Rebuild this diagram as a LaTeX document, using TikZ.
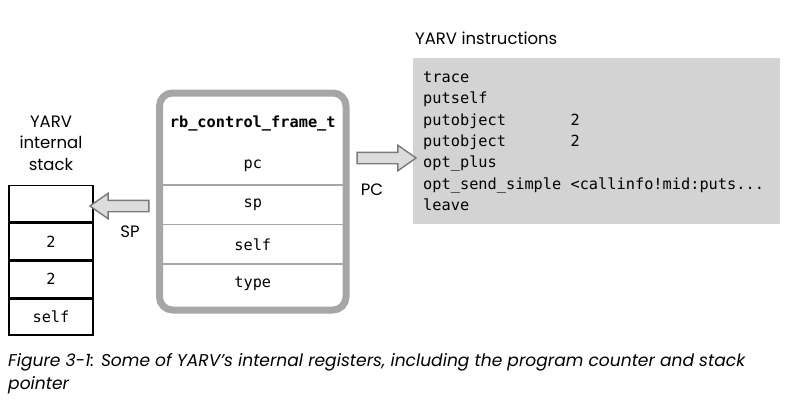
\documentclass[tikz,border=0pt]{standalone}
\usepackage{fontspec}
\setsansfont{Poppins}
\setmonofont{DejaVu Sans Mono}
\usepackage{tikz}
\usetikzlibrary{
  arrows.meta,
  positioning,
  shapes.arrows
}
\definecolor{CodeGray}{HTML}{D3D3D4}
\definecolor{FrameGray}{HTML}{A6A6A6}
\definecolor{ArrowFill}{HTML}{DCDCDC}
\definecolor{ArrowLine}{HTML}{7A7A7A}
\newcommand\instr[2]{\makebox[16\fontcharwd\font`0][l]{#1}#2}

\begin{document}
\begin{tikzpicture}[
  x=1pt, y=-1pt,
  lbl/.style={font=\sffamily\fontsize{16.5}{21.5}\selectfont,inner sep=0pt},
  mono/.style={font=\ttfamily\fontsize{15.3}{21.4}\selectfont},
  codebox/.style={
    mono,
    fill=CodeGray,
    anchor=north west,
    text width=347pt,
    inner xsep=10pt,
    minimum height=166pt,
    align=left
  },
  framebox/.style={
    draw=FrameGray,
    line width=7pt,
    rounded corners=13pt,
    minimum width=186.5pt,
    minimum height=217pt
  },
  field/.style={mono,minimum width=180pt,minimum height=39pt,inner sep=0pt},
  sep/.style={draw=FrameGray,line width=1.5pt},
  slot/.style={mono,draw=black,line width=1.6pt,minimum width=84pt,minimum height=36.25pt,inner sep=0pt},
  blockarrow/.style={
    single arrow,
    draw=ArrowLine,
    fill=ArrowFill,
    line width=1.4pt,
    inner sep=5pt,
    single arrow head extend=7pt,
    single arrow tip angle=70,
    minimum height=59pt
  },
  caption/.style={font=\sffamily\itshape\fontsize{17.1}{23.5}\selectfont,inner sep=0pt,anchor=north west,align=left}
]
\useasboundingbox (0,0) rectangle (788,415);

% instruction listing
\node[lbl,anchor=west] (codelbl) at (415,38) {YARV instructions};
\node[codebox] (code) at (413,58)
  {trace\\
   putself\\
   \instr{putobject}{2}\\
   \instr{putobject}{2}\\
   opt\_plus\\
   \instr{opt\_send\_simple}{<callinfo!mid:puts...}\\
   leave};

% control frame
\node[framebox] (frame) at (252.75,201.5) {};
\node[field,font=\ttfamily\bfseries\fontsize{15.3}{21.4}\selectfont] (frtitle) at (252.75,123) {rb\_control\_frame\_t};
\node[field] (pcfield) at (252.75,165.5) {pc};
\node[field,below=0pt of pcfield] (spfield) {sp};
\node[field,below=0pt of spfield] (selffield) {self};
\node[field,below=0pt of selffield] (typefield) {type};
\draw[sep] (pcfield.south west) -- (pcfield.south east);
\draw[sep] (spfield.south west) -- (spfield.south east);
\draw[sep] (selffield.south west) -- (selffield.south east);

% internal stack
\node[lbl,align=center] (stacklbl) at (51,143) {YARV\\internal\\stack};
\node[slot] (slot1) at (51,203.5) {};
\node[slot,below=0pt of slot1] (slot2) {2};
\node[slot,below=0pt of slot2] (slot3) {2};
\node[slot,below=0pt of slot3] (slot4) {self};

% registers
\node[blockarrow] (pcarrow) at (382.5,158) {};
\node[blockarrow,shape border rotate=180] (sparrow) at (123.5,206) {};
\node[lbl] (pclbl) at (372,190) {PC};
\node[lbl] (splbl) at (130,232) {SP};

\node[caption] (cap) at (8,353)
  {Figure 3-1: Some of YARV’s internal registers, including the program counter and stack\\pointer};
\end{tikzpicture}
\end{document}
